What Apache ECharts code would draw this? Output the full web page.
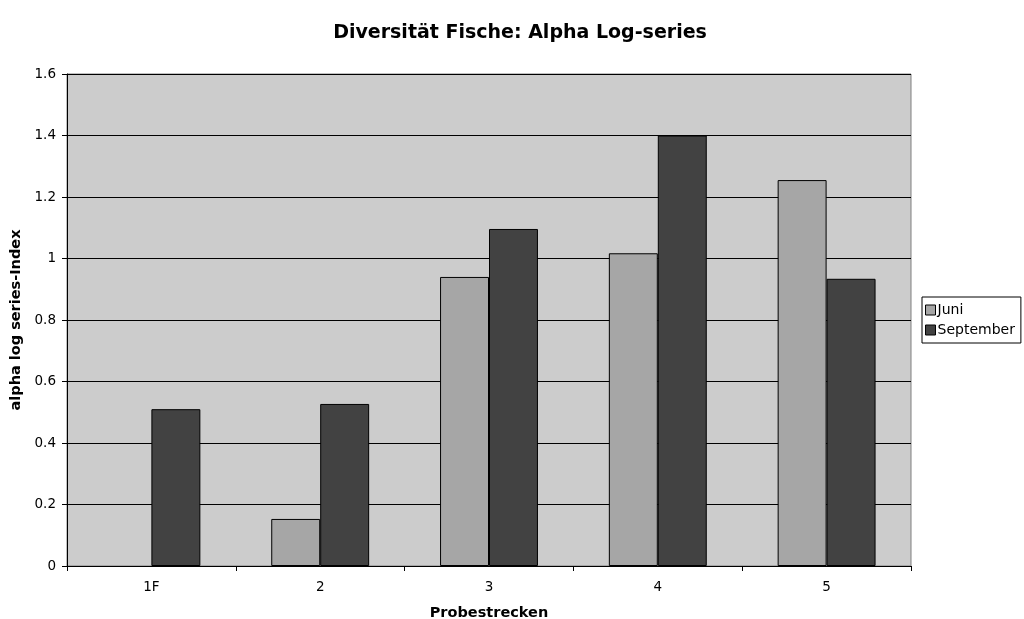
<!DOCTYPE html>
<html><head><meta charset="utf-8">
<script src="https://cdn.jsdelivr.net/npm/echarts@6/dist/echarts.min.js"></script>
<style>html,body{margin:0;padding:0;background:#fff}#c{width:1024px;height:619px}</style>
</head><body><div id="c"></div>
<script>
const categories = ['1F', '2', '3', '4', '5'];
const juni = [null, 0.153, 0.94, 1.017, 1.255];
const september = [0.51, 0.527, 1.096, 1.40, 0.934];
const yTicks = [0, 0.2, 0.4, 0.6, 0.8, 1, 1.2, 1.4, 1.6];

const font = 'DejaVu Sans, Verdana, sans-serif';
const chart = echarts.init(document.getElementById('c'));
chart.setOption({
  animation: false,
  backgroundColor: '#ffffff',
  title: {
    text: 'Diversität Fische: Alpha Log-series',
    left: 515, top: 19, textAlign: 'center',
    textStyle: {fontFamily: font, fontSize: 19, fontWeight: 'bold', color: '#000'}
  },
  legend: {
    left: 922, top: 297, orient: 'vertical',
    padding: [6, 6, 6, 3], itemGap: 6,
    borderColor: '#000', borderWidth: 1,
    itemWidth: 10, itemHeight: 10,
    icon: 'rect',
    textStyle: {fontFamily: font, fontSize: 14, color: '#000', padding: [0, 0, 0, -3]},
    data: [
      {name: 'Juni', itemStyle: {color: '#a6a6a6', borderColor: '#000', borderWidth: 1}},
      {name: 'September', itemStyle: {color: '#424242', borderColor: '#000', borderWidth: 1}}
    ]
  },
  grid: {
    left: 67, right: 113, top: 74, bottom: 53, outerBoundsMode: 'none',
    show: true, backgroundColor: '#cccccc', borderColor: '#808080', borderWidth: 1
  },
  xAxis: {
    type: 'category', data: categories,
    name: 'Probestrecken', nameLocation: 'middle', nameGap: 40,
    nameTextStyle: {fontFamily: font, fontSize: 14.5, fontWeight: 'bold', color: '#000'},
    axisLine: {lineStyle: {color: '#000', width: 1}},
    axisTick: {show: true, length: 5, lineStyle: {color: '#000'}},
    axisLabel: {fontFamily: font, fontSize: 13.5, color: '#000', margin: 14}
  },
  yAxis: {
    type: 'value', min: 0, max: 1.6, interval: 0.2,
    name: 'alpha log series-Index', nameLocation: 'middle', nameGap: 43,
    nameTextStyle: {fontFamily: font, fontSize: 14.5, fontWeight: 'bold', color: '#000'},
    axisLine: {show: true, lineStyle: {color: '#000', width: 1}},
    axisTick: {show: true, length: 5, lineStyle: {color: '#000'}},
    axisLabel: {fontFamily: font, fontSize: 13.5, color: '#000', margin: 11,
      formatter: v => { const t = yTicks.find(x => Math.abs(x - v) < 1e-9); return String(t !== undefined ? t : v); }},
    splitLine: {show: true, lineStyle: {color: '#000', width: 1}}
  },
  series: [
    {name: 'Juni', type: 'bar', data: juni, barGap: '0%', barCategoryGap: '42%',
     itemStyle: {color: '#a6a6a6', borderColor: '#000', borderWidth: 1}},
    {name: 'September', type: 'bar', data: september, barGap: '0%', barCategoryGap: '42%',
     itemStyle: {color: '#424242', borderColor: '#000', borderWidth: 1}}
  ]
});
</script></body></html>
